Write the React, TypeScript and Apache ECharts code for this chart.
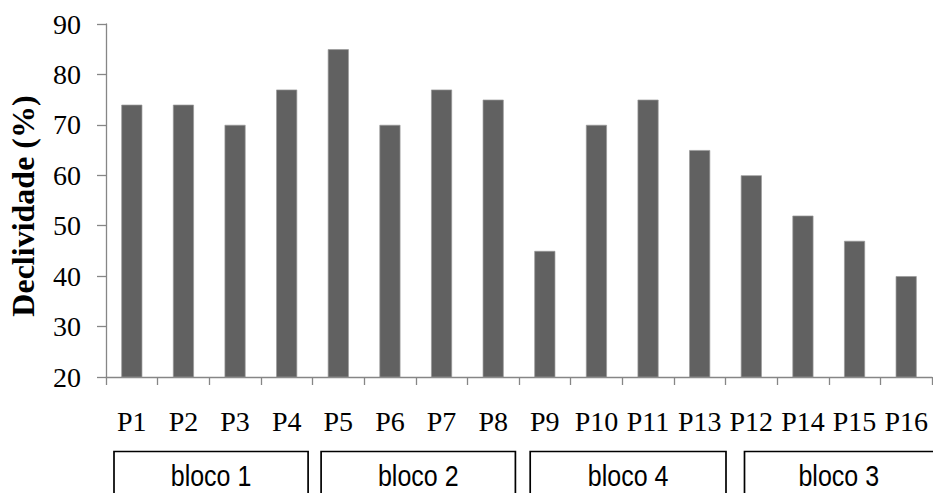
import React, { useEffect, useRef } from "react";
import * as echarts from "echarts";

const categories = ["P1", "P2", "P3", "P4", "P5", "P6", "P7", "P8", "P9", "P10", "P11", "P13", "P12", "P14", "P15", "P16"];
const declividade = [74, 74, 70, 77, 85, 70, 77, 75, 45, 70, 75, 65, 60, 52, 47, 40];
const yTicks = [20, 30, 40, 50, 60, 70, 80, 90];
const blocoLabels = ["bloco 1", "bloco 2", "bloco 4", "bloco 3"];
const blocoStart = [0, 4, 8, 12];
const blocoEnd = [3, 7, 11, 15];

// layout offsets (px) of the group boxes relative to their category boundaries
const boxInsetLeft = [8, 8.6, 11.2, 19];
const boxInsetRight = [-4.4, -3.6, 0.5, 10];

export default function App() {
  const ref = useRef<HTMLDivElement>(null);
  useEffect(() => {
    if (!ref.current) return;
    const chart = echarts.init(ref.current, null, { renderer: "svg" });
    const axisColor = "#868686";
    chart.setOption({
      animation: false,
      textStyle: { fontFamily: "Liberation Serif" },
      grid: { left: 106, top: 24, right: 1, bottom: 116, containLabel: false, outerBoundsMode: "none" },
      xAxis: {
        type: "category",
        data: categories,
        axisLine: { lineStyle: { color: axisColor, width: 1.3 } },
        axisTick: { show: true, length: 8, lineStyle: { color: axisColor, width: 1.3 } },
        axisLabel: { color: "#000", fontSize: 28, margin: 30, fontFamily: "Liberation Serif", interval: 0 },
      },
      yAxis: {
        type: "value",
        min: yTicks[0],
        max: yTicks[yTicks.length - 1],
        interval: 10,
        name: "Declividade (%)",
        nameLocation: "middle",
        nameRotate: 90,
        nameGap: 67,
        nameTextStyle: {
          color: "#000",
          fontSize: 32,
          fontWeight: "bold",
          fontFamily: "Liberation Serif",
          padding: [0, 11, 0, 0],
        },
        axisLine: { show: true, lineStyle: { color: axisColor, width: 1.3 } },
        axisTick: { show: true, length: 9, lineStyle: { color: axisColor, width: 1.3 } },
        splitLine: { show: false },
        axisLabel: { color: "#000", fontSize: 28, margin: 25, fontFamily: "Liberation Serif" },
      },
      series: [
        {
          type: "bar",
          data: declividade,
          barWidth: 21,
          itemStyle: { color: "#616161", borderColor: "#9a9a9a", borderWidth: 0.7 },
        },
      ],
    });

    const step = (chart.convertToPixel({ xAxisIndex: 0 }, 1) as number) - (chart.convertToPixel({ xAxisIndex: 0 }, 0) as number);
    const boxTop = 451.5;
    const boxBottom = 520;
    const graphics: any[] = [];
    blocoLabels.forEach((label, i) => {
      const x0 = (chart.convertToPixel({ xAxisIndex: 0 }, blocoStart[i]) as number) - step / 2 + boxInsetLeft[i];
      const x1 = (chart.convertToPixel({ xAxisIndex: 0 }, blocoEnd[i]) as number) + step / 2 + boxInsetRight[i];
      graphics.push({
        type: "rect",
        shape: { x: x0, y: boxTop, width: x1 - x0, height: boxBottom - boxTop },
        style: { fill: "#fff", stroke: "#000", lineWidth: 1.7 },
        silent: true,
      });
      graphics.push({
        type: "text",
        x: (x0 + Math.min(x1, 933)) / 2,
        y: 476,
        scaleY: 1.2,
        style: {
          text: label,
          fill: "#000",
          font: '25px "Liberation Sans"',
          align: "center",
          verticalAlign: "middle",
        },
        silent: true,
      });
    });
    chart.setOption({ graphic: graphics });

    return () => chart.dispose();
  }, []);
  return <div ref={ref} style={{ width: 933, height: 493, position: "absolute", left: 0, top: 0 }} />;
}
